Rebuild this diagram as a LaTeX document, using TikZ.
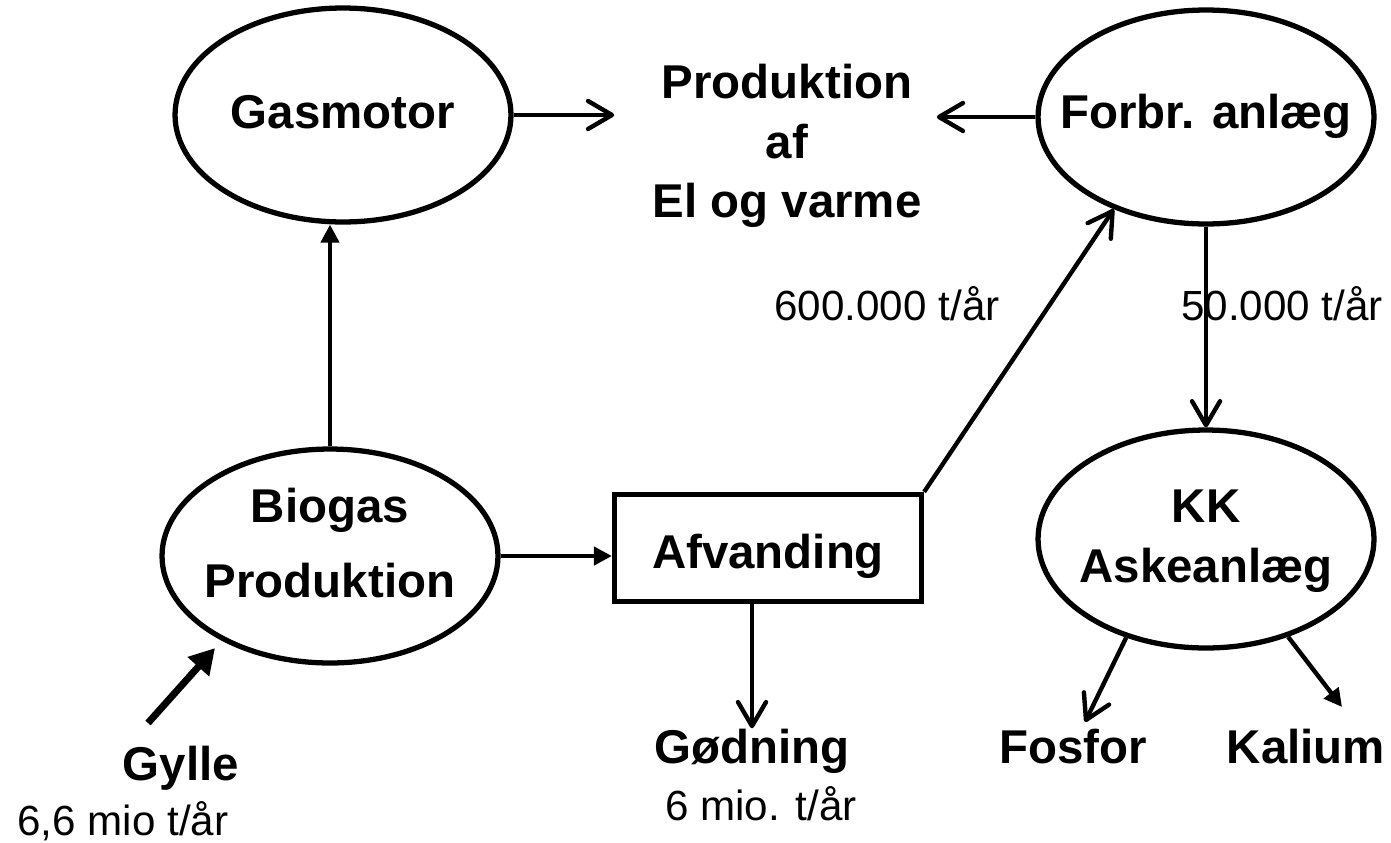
\documentclass[tikz,border=0pt]{standalone}
\usepackage{fontspec}
\setmainfont{Liberation Sans}
\usetikzlibrary{shapes.geometric,arrows.meta,calc}

\begin{document}
\begin{tikzpicture}[x=0.02cm,y=-0.02cm,
	plant/.style={ellipse,draw,line width=3pt,minimum width=6.72cm,minimum height=4.28cm,inner xsep=-0.6cm,inner ysep=0pt,align=center,font=\bfseries\fontsize{27}{34}\selectfont},
	tank/.style={rectangle,draw,line width=3pt,minimum width=6.14cm,minimum height=2.14cm,inner sep=0pt,text height=0.8cm,text depth=0cm,font=\bfseries\fontsize{27}{34}\selectfont},
	lbl/.style={inner sep=0pt,align=center,font=\bfseries\fontsize{27}{34}\selectfont},
	qty/.style={inner sep=0pt,font=\fontsize{24}{28}\selectfont},
	flow/.style={line width=2.5pt,-{Straight Barb[round,length=0.48cm,width=0.56cm]}},
	feed/.style={line width=2.5pt,-{Triangle[length=0.36cm,width=0.36cm]}}]
		\useasboundingbox (0,0) rectangle (1391,842);
		\node[plant,text height=0.62cm,text depth=0.1cm] (gas) at (343,115) {Gasmotor};
		\node[plant,text height=0.56cm,text depth=0.12cm] (forbr) at (1206,117) {Forbr. anlæg};
		\node[plant,font=\bfseries\fontsize{27}{42.5}\selectfont,text height=2.3cm,text depth=0.66cm] (bio) at (330,556) {Biogas\\Produktion};
		\node[plant,minimum height=4.36cm,text height=2.0cm,text depth=0.28cm] (kk) at (1206,539) {KK\\Askeanlæg};
		\node[tank] (afv) at (768,548) {Afvanding};
		\node[lbl] (prod) at (787,146) {Produktion\\af\\El og varme};
		\node[lbl,anchor=base] (gylle) at (181,780) {Gylle};
		\node[lbl,anchor=base] (god) at (752,763) {Gødning};
		\node[lbl,anchor=base] (fos) at (1073,763) {Fosfor};
		\node[lbl,anchor=base] (kal) at (1306,763) {Kalium};
		\node[qty,anchor=base] (gyllet) at (123,835) {6,6 mio t/år};
		\node[qty,anchor=base] (godt) at (761,820) {6 mio. t/år};
		\node[qty,anchor=base] (ton600) at (887,320) {600.000 t/år};
		\node[qty,anchor=base] (ton50) at (1282,320) {50.000 t/år};
		\coordinate (gyllein) at (148,723);
		\coordinate (fostip) at (1085,722);
		\coordinate (kaltip) at (1342,707);
		\draw[flow,shorten >=0.76cm] (gas.east) -- (gas.east -| prod.west);
		\draw[flow,shorten >=0.3cm] (forbr.west) -- (forbr.west -| prod.east);
		\draw[feed] (bio.north) -- (bio.north |- gas.south);
		\draw[feed] (bio.east) -- (bio.east -| afv.west);
		\draw[flow] (afv.north east) -- (forbr.225);
		\draw[flow] (forbr.south) -- (kk.north);
		\draw[flow] (god.north |- afv.south) -- (god.north);
		\draw[line width=4pt,-{Triangle[length=0.5cm,width=0.55cm]},shorten >=0.2cm] (gyllein) -- (bio.218);
		\draw[flow] (kk.231) -- (fostip);
		\draw[feed] (kk.310) -- (kaltip);
	\end{tikzpicture}
\end{document}
